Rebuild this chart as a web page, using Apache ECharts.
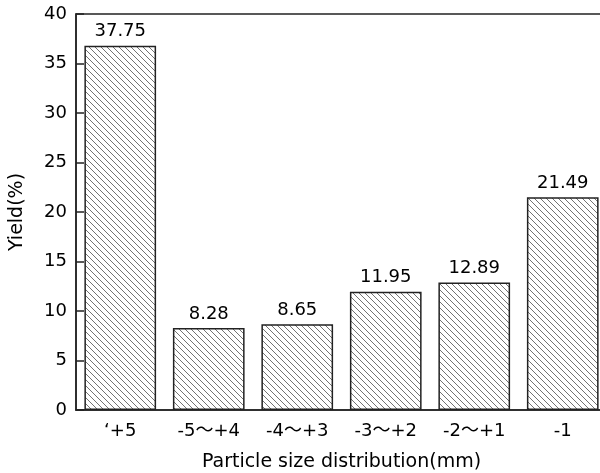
<!DOCTYPE html>
<html><head><meta charset="utf-8">
<script src="https://cdn.jsdelivr.net/npm/echarts@6/dist/echarts.min.js"></script>
<style>html,body{margin:0;padding:0;background:#fff}#c{width:600px;height:473px}</style>
</head><body><div id="c"></div>
<script>
const categories = ['\u2018+5', '-5\uFF5E+4', '-4\uFF5E+3', '-3\uFF5E+2', '-2\uFF5E+1', '-1'];
const barHeights = [36.8, 8.28, 8.65, 11.95, 12.89, 21.49];
const labelTexts = ['37.75', '8.28', '8.65', '11.95', '12.89', '21.49'];
const yTicks = [0, 5, 10, 15, 20, 25, 30, 35, 40];

const pc = document.createElement('canvas');
pc.width = 6; pc.height = 6;
const g = pc.getContext('2d');
g.fillStyle = '#fff'; g.fillRect(0, 0, 6, 6);
g.strokeStyle = '#737373'; g.lineWidth = 1;
g.beginPath();
g.moveTo(-1, -1); g.lineTo(7, 7);
g.moveTo(-1, 5); g.lineTo(1, 7);
g.moveTo(5, -1); g.lineTo(7, 1);
g.stroke();

const chart = echarts.init(document.getElementById('c'));
const font = '"DejaVu Sans", "Noto Sans CJK SC", sans-serif';
chart.setOption({
  animation: false,
  backgroundColor: '#fff',
  grid: { left: 76, top: 14, width: 531, height: 396, outerBoundsMode: 'none', containLabel: false,
          show: true, borderColor: '#222', borderWidth: 1.5, backgroundColor: 'transparent' },
  xAxis: {
    type: 'category', data: categories,
    name: 'Particle size distribution(mm)', nameLocation: 'middle', nameGap: 43,
    nameTextStyle: { fontSize: 19, color: '#000', fontFamily: font },
    axisLine: { lineStyle: { color: '#222', width: 1.5 } },
    axisTick: { show: false },
    axisLabel: { fontSize: 18, color: '#000', fontFamily: font, margin: 12 }
  },
  yAxis: {
    type: 'value', min: yTicks[0], max: yTicks[yTicks.length - 1], interval: 5,
    name: 'Yield(%)', nameLocation: 'middle', nameGap: 49,
    nameTextStyle: { fontSize: 19, color: '#000', fontFamily: font },
    axisLine: { show: true, lineStyle: { color: '#222', width: 1.5 } },
    axisTick: { show: true, inside: true, length: 8, lineStyle: { color: '#222', width: 1.5 } },
    axisLabel: { fontSize: 18, color: '#000', fontFamily: font, margin: 9 },
    splitLine: { show: false }
  },
  series: [{
    type: 'bar', data: barHeights, barWidth: '81%',
    itemStyle: { color: { image: pc, repeat: 'repeat' }, borderColor: '#222', borderWidth: 1.5 },
    label: {
      show: true, position: 'top', distance: 5, fontSize: 18, color: '#000', fontFamily: font,
      formatter: p => labelTexts[p.dataIndex]
    }
  }]
});
</script></body></html>
